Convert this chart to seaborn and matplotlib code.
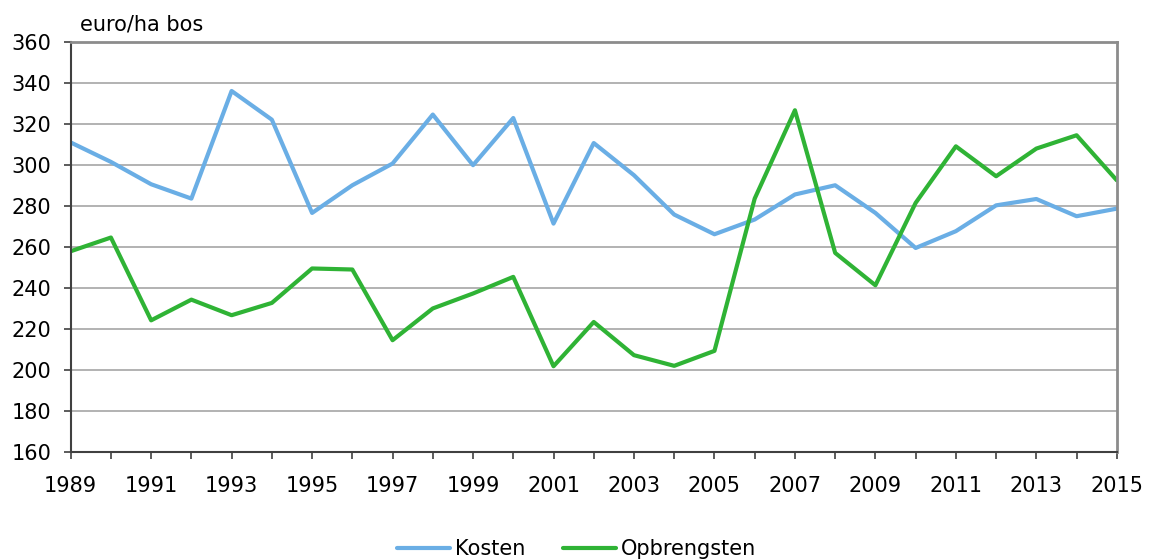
import matplotlib
matplotlib.use("Agg")
import matplotlib.pyplot as plt
import seaborn as sns
import pandas as pd

# data
jaren = list(range(1989, 2016))
kosten = [311, 301.5, 290.6, 283.6, 336.1, 322.1, 276.6, 290.1, 300.7, 324.6,
          299.9, 322.9, 271.4, 310.7, 295, 275.8, 266.2, 273.4, 285.6, 290.1,
          276.6, 259.5, 267.7, 280.3, 283.4, 275, 278.7]
opbrengsten = [257.9, 264.6, 224.2, 234.3, 226.7, 232.7, 249.5, 249, 214.5, 230,
               237.3, 245.4, 201.8, 223.4, 207.2, 202, 209.3, 283.6, 326.7, 257.1,
               241.3, 281.5, 309.1, 294.5, 308, 314.5, 292.5]
y_ticks = list(range(160, 361, 20))

df = pd.DataFrame({"Jaar": jaren, "Kosten": kosten, "Opbrengsten": opbrengsten})
df_long = df.melt(id_vars="Jaar", var_name="reeks", value_name="waarde")

sns.set_style("white")
plt.rcParams["font.family"] = ["DejaVu Sans"]
plt.rcParams["text.color"] = "black"

fs = 15

fig = plt.figure(figsize=(11.49, 5.6), dpi=100)
ax = fig.add_axes([0.0615, 0.193, 0.9105, 0.732])

sns.lineplot(data=df_long, x="Jaar", y="waarde", hue="reeks",
             palette={"Kosten": "#6aaee5", "Opbrengsten": "#2fb335"},
             linewidth=3, ax=ax, legend=True)

ax.set_xlim(1989, 2015)
ax.set_ylim(160, 360)
ax.set_yticks(y_ticks)
ax.set_xticks(jaren)
ax.set_xticklabels([str(j) if (j - 1989) % 2 == 0 else "" for j in jaren])
ax.grid(axis="y", color="#a6a6a6", linewidth=1.2)
ax.set_axisbelow(True)
ax.set_xlabel("")
ax.set_ylabel("")

for side in ["left", "bottom"]:
    ax.spines[side].set_color("#404040")
    ax.spines[side].set_linewidth(1.5)
for side in ["top", "right"]:
    ax.spines[side].set_visible(True)
    ax.spines[side].set_color("#8c8c8c")
    ax.spines[side].set_linewidth(2)

ax.tick_params(axis="both", direction="out", length=5, width=1.2,
               color="#404040", labelsize=fs, labelcolor="black",
               bottom=True, left=True)
ax.tick_params(axis="x", pad=12)
ax.tick_params(axis="y", pad=9)

fig.text(80 / 1149, 1 - 30 / 560, "euro/ha bos", fontsize=fs,
         ha="left", va="baseline", color="black")

handles, labels = ax.get_legend_handles_labels()
ax.get_legend().remove()
fig.legend(handles, labels, loc="center", bbox_to_anchor=(0.5018, 0.02),
           ncol=2, frameon=False, fontsize=fs, handlelength=2.55,
           columnspacing=1.8, handletextpad=0.25, borderaxespad=0)

plt.savefig("out.png", dpi=100)
plt.close()
